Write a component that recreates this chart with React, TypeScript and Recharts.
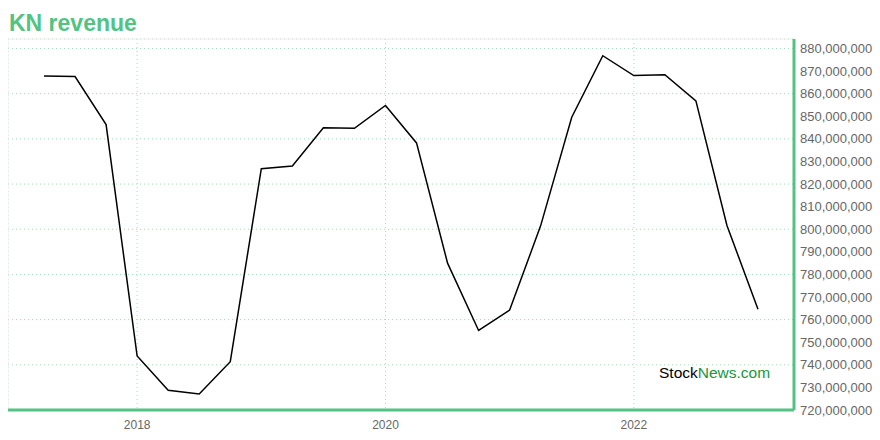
import { LineChart, Line, XAxis, YAxis, CartesianGrid, ReferenceArea } from "recharts";

// quarter-end dates as fractional years
const quarters = [
    2017.25, 2017.5, 2017.75, 2018.0, 2018.25, 2018.5, 2018.75, 2019.0,
    2019.25, 2019.5, 2019.75, 2020.0, 2020.25, 2020.5, 2020.75, 2021.0,
    2021.25, 2021.5, 2021.75, 2022.0, 2022.25, 2022.5, 2022.75, 2023.0,
];

// revenue in millions
const revenue = [
    867.8, 867.6, 846.3, 743.9, 728.7, 727.1, 741.4, 826.8,
    828.0, 844.9, 844.7, 854.8, 838.2, 785.0, 755.2, 764.2,
    801.6, 849.6, 876.8, 868.0, 868.4, 856.8, 801.7, 764.6,
];

const xTicks = [2018, 2020, 2022];
const yTicks = [720, 730, 740, 750, 760, 770, 780, 790, 800, 810, 820, 830, 840, 850, 860, 870, 880].map((v) => v * 1e6);

const data = quarters.map((q, i) => ({ date: q, value: revenue[i] * 1e6 }));

const GREEN = "#52c383";
const GRID = "#a3dcbc";
const X_DOMAIN: [number, number] = [2016.96, 2023.29];
const Y_DOMAIN: [number, number] = [720e6, 884.2e6];

export default function App() {
    return (
        <div style={{ position: "relative", width: 872, height: 432, fontFamily: "'Liberation Sans', Arial, sans-serif" }}>
            <div
                style={{
                    position: "absolute",
                    left: 1,
                    top: 3.5,
                    fontSize: 23,
                    lineHeight: "23px",
                    fontWeight: "bold",
                    color: GREEN,
                }}
            >
                KN revenue
            </div>
            <LineChart width={872} height={432} data={data} margin={{ top: 31, right: 0, left: 0, bottom: 0 }}>
                <ReferenceArea
                    x1={X_DOMAIN[0]}
                    x2={X_DOMAIN[1]}
                    y1={Y_DOMAIN[0]}
                    y2={Y_DOMAIN[1]}
                    fill="none"
                    stroke="#eeeeee"
                    strokeWidth={1}
                />
                <CartesianGrid stroke={GRID} strokeDasharray="1 3" verticalPoints={undefined} />
                <XAxis
                    dataKey="date"
                    type="number"
                    domain={X_DOMAIN}
                    ticks={xTicks}
                    allowDataOverflow
                    height={30}
                    axisLine={{ stroke: GREEN, strokeWidth: 3 }}
                    tickLine={false}
                    tickSize={0}
                    tickMargin={10}
                    tick={{ fill: "#666", fontSize: 12 }}
                />
                <YAxis
                    orientation="right"
                    type="number"
                    domain={Y_DOMAIN}
                    ticks={yTicks}
                    allowDataOverflow
                    width={86}
                    axisLine={{ stroke: GREEN, strokeWidth: 3 }}
                    tickLine={false}
                    tickSize={0}
                    tickMargin={6}
                    tick={{ fill: "#666", fontSize: 13 }}
                    tickFormatter={(v) => v.toLocaleString("en-US")}
                />
                <Line
                    type="linear"
                    dataKey="value"
                    stroke="#000"
                    strokeWidth={1.5}
                    dot={false}
                    activeDot={false}
                    isAnimationActive={false}
                />
            </LineChart>
            <div
                style={{
                    position: "absolute",
                    left: 651,
                    top: 356.5,
                    fontSize: 15.5,
                    lineHeight: "16px",
                }}
            >
                <span style={{ color: "#000" }}>Stock</span>
                <span style={{ color: "#17963a" }}>News.com</span>
            </div>
        </div>
    );
}
